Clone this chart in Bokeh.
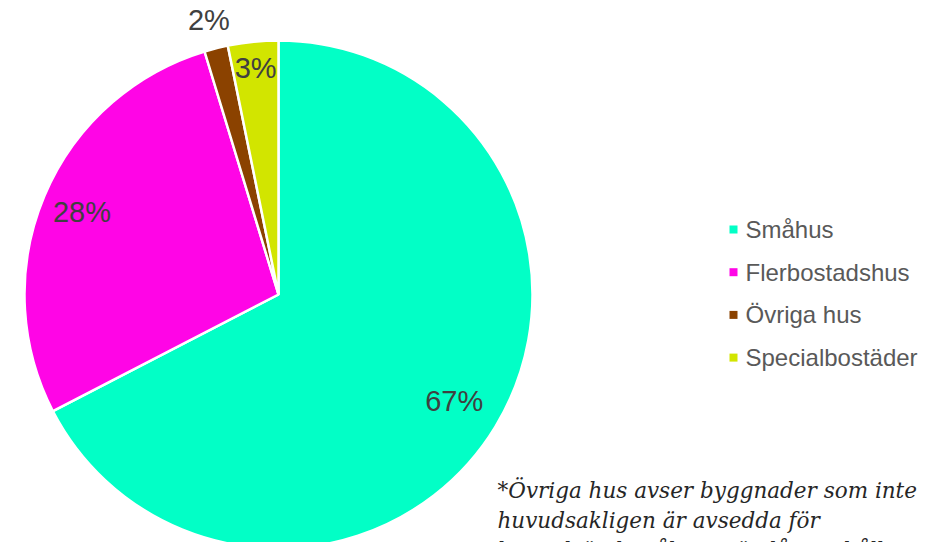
import numpy as np
from bokeh.plotting import figure
from bokeh.models import Range1d, ColumnDataSource
from bokeh.core.properties import value
from bokeh.embed import file_html
from bokeh.resources import INLINE

categories = ["Småhus", "Flerbostadshus", "Övriga hus", "Specialbostäder"]
shares = [67.4, 27.9, 1.5, 3.2]
pct_labels = ["67%", "28%", "2%", "3%"]
colors = ["#02FFC6", "#FF05E6", "#8B4200", "#D2E500"]
footnote = ["*Övriga hus avser byggnader som inte",
            "huvudsakligen är avsedda för",
            "bostadsändamål men ändå innehåller"]

W, H = 941, 542
p = figure(width=W, height=H, output_backend="svg", toolbar_location=None,
           x_range=Range1d(0, W), y_range=Range1d(0, H), min_border=0)
p.axis.visible = False
p.grid.visible = False
p.outline_line_color = None
p.background_fill_color = "white"
p.border_fill_color = "white"

cx, cy, r = 278, H - 294, 254
frac = np.array(shares) / sum(shares)
cum = np.concatenate([[0], np.cumsum(frac)])
start = np.pi / 2 - cum[:-1] * 2 * np.pi
end = np.pi / 2 - cum[1:] * 2 * np.pi
mid = (start + end) / 2

src = ColumnDataSource(dict(start=start, end=end, color=colors, cat=categories))
p.wedge(x=cx, y=cy, radius=r, radius_units="screen", start_angle="start", end_angle="end",
        direction="clock", fill_color="color", line_color="white", line_width=2.5, source=src)

rf = np.array([0.81, 0.84, 1.115, 0.895])
lx = cx + rf * r * np.cos(mid)
ly = cy + rf * r * np.sin(mid)
p.text(x=lx, y=ly, text=pct_labels, text_font=value("Liberation Sans"), text_font_size="29px",
       text_color="#404040", text_align="center", text_baseline="middle")

# legend
lgx, lgy, pitch = 733, H - 229, 42.7
ys = [lgy - i * pitch for i in range(len(categories))]
p.scatter(x=[lgx] * len(categories), y=ys, marker="square", size=8, fill_color=colors, line_color=None)
p.text(x=[lgx + 12] * len(categories), y=ys, text=categories, text_font=value("Liberation Sans"),
       text_font_size="24px", text_color="#595959", text_align="left", text_baseline="middle")

# footnote
fy = [H - 490 - i * 30 for i in range(len(footnote))]
p.text(x=[497] * len(footnote), y=fy, text=footnote, text_font=value("DejaVu Serif"),
       text_font_style="italic", text_font_size="21.5px", text_color="#262626",
       text_align="left", text_baseline="alphabetic")

open("out.html", "w").write(file_html(p, INLINE))
